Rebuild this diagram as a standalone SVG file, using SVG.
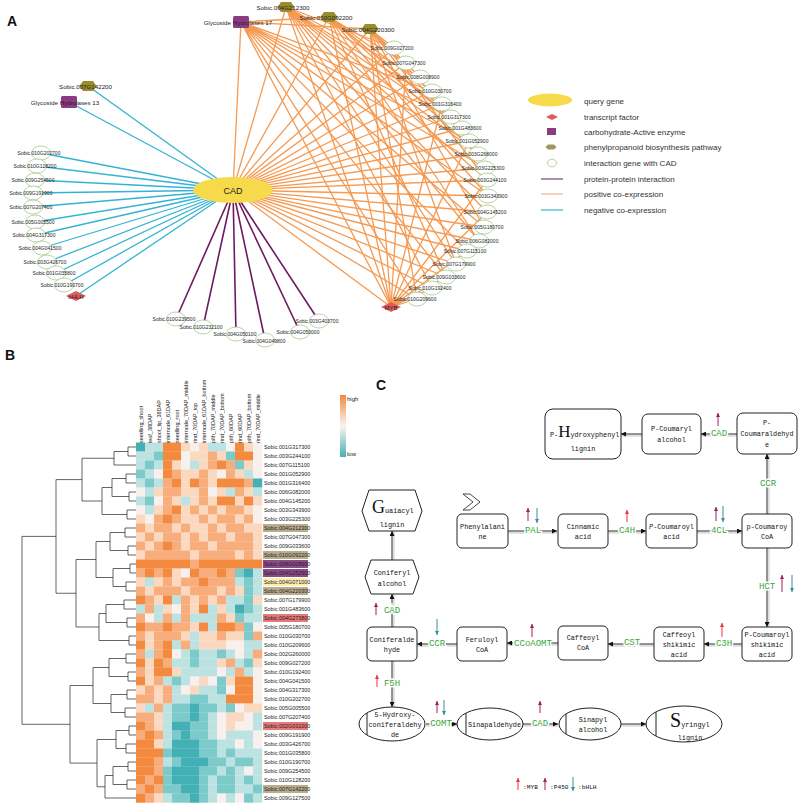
<svg xmlns="http://www.w3.org/2000/svg" width="800" height="805" viewBox="0 0 800 805">
<defs>
<style>
text{font-family:"Liberation Sans",Arial,sans-serif;fill:#222}
.pl{font-size:14px;font-weight:bold;fill:#111}
.nl{font-size:5px;text-anchor:middle;dominant-baseline:central;fill:#222}
.hl{font-size:6.2px;text-anchor:middle;dominant-baseline:central}
.ig{fill:#fff;stroke:#a3c98a;stroke-width:0.8}
.hx{fill:#9b8d2c}
.ce{fill:#8c3a82}
.tf{fill:#e05c5c}
.eo{stroke:#f59a52;stroke-width:1.3;fill:none}
.eb{stroke:#35b3d3;stroke-width:1.3;fill:none}
.ep{stroke:#6e1a62;stroke-width:1.6;fill:none}
.lg{font-size:8px;fill:#333;dominant-baseline:central}
.hm rect{y:0;width:9.2px;height:9.2px}
.hm rect:nth-child(1){x:136px}.hm rect:nth-child(2){x:145px}.hm rect:nth-child(3){x:154px}.hm rect:nth-child(4){x:163px}
.hm rect:nth-child(5){x:172px}.hm rect:nth-child(6){x:181px}.hm rect:nth-child(7){x:190px}.hm rect:nth-child(8){x:199px}
.hm rect:nth-child(9){x:208px}.hm rect:nth-child(10){x:217px}.hm rect:nth-child(11){x:226px}.hm rect:nth-child(12){x:235px}
.hm rect:nth-child(13){x:244px}.hm rect:nth-child(14){x:253px}
.O{fill:#f48a40}.o{fill:#f7ae7c}.p{fill:#fbd8c0}.w{fill:#f7f0ed}.l{fill:#bde2e2}.t{fill:#7dcaca}.T{fill:#42b0b4}
.cl{font-size:5.5px}
.rl{font-size:5.4px;dominant-baseline:central}
.dg{stroke:#222;stroke-width:0.7;fill:none}
.bx{fill:#fff;stroke:#222;stroke-width:1}
.ct{font-family:"Liberation Mono","DejaVu Sans Mono",monospace;font-size:6.8px;text-anchor:middle;fill:#111}
.ez{font-family:"Liberation Mono","DejaVu Sans Mono",monospace;font-size:9px;fill:#3aa63a;text-anchor:middle;dominant-baseline:central;paint-order:stroke;stroke:#fff;stroke-width:3}
.cn{stroke:#444;stroke-width:1;fill:none;marker-end:url(#ah)}
.sh{stroke:#bbb;stroke-width:3.5;fill:none;opacity:.5}
.am{stroke:#e8343c;stroke-width:1;marker-end:url(#am)}
.ap{stroke:#9e1f5a;stroke-width:1;marker-end:url(#ap)}
.ab{stroke:#3a8ea0;stroke-width:1;marker-end:url(#ab)}
</style>
<path id="hex" d="M-8.5 0L-5-5H5L8.5 0L5 5H-5Z"/>
<path id="dia" d="M-10 0L0-5L10 0L0 5Z"/>
<marker id="ah" viewBox="0 0 10 10" refX="10" refY="5" markerWidth="5" markerHeight="5" orient="auto"><path d="M0 0L10 5L0 10z" fill="#111"/></marker>
<marker id="am" viewBox="0 0 10 10" refX="10" refY="5" markerWidth="4" markerHeight="4" orient="auto"><path d="M0 0L10 5L0 10z" fill="#e8343c"/></marker>
<marker id="ap" viewBox="0 0 10 10" refX="10" refY="5" markerWidth="4" markerHeight="4" orient="auto"><path d="M0 0L10 5L0 10z" fill="#9e1f5a"/></marker>
<marker id="ab" viewBox="0 0 10 10" refX="10" refY="5" markerWidth="4" markerHeight="4" orient="auto"><path d="M0 0L10 5L0 10z" fill="#3a8ea0"/></marker>
<linearGradient id="hg" x1="0" y1="0" x2="0" y2="1"><stop offset="0" stop-color="#f4883e"/><stop offset=".5" stop-color="#fbf4f0"/><stop offset="1" stop-color="#45b1b5"/></linearGradient>
</defs>
<rect width="800" height="805" fill="#fff"/>

<text class="pl" x="7" y="26">A</text>
<text class="pl" x="5" y="360">B</text>
<text class="pl" x="376" y="390">C</text>

<!-- Panel A connectors -->
<g id="a-edges">
<path class="eo" d="M233 190L394 48M233 190L406 63M233 190L420 77M233 190L432 91M233 190L442 104M233 190L451 117M233 190L462 128M233 190L469 141M233 190L478 154M233 190L485 168M233 190L487 180M233 190L488 196M233 190L487 212M233 190L484 227M233 190L479 241M233 190L467 251M233 190L456 264M233 190L446 277M233 190L432 288M233 190L417 299M233 190L391 307M233 190L286 7M233 190L329 17M233 190L370 29M233 190L241 22"/>
<path class="eo" d="M241 22L432 91M241 22L451 117M241 22L469 141M241 22L485 168M241 22L488 196M241 22L484 227M241 22L467 251M241 22L446 277M241 22L417 299M241 22L391 307M241 22L370 29M241 22L329 17"/>
<path class="eo" d="M286 7L394 48M286 7L420 77M286 7L442 104M286 7L462 128M286 7L478 154M286 7L487 180M286 7L487 212M286 7L479 241M286 7L456 264M286 7L432 288M286 7L391 307"/>
<path class="eo" d="M329 17L406 63M329 17L432 91M329 17L451 117M329 17L478 154M329 17L488 196M329 17L479 241M329 17L446 277M329 17L391 307M329 17L462 128"/>
<path class="eo" d="M370 29L394 48M370 29L406 63M370 29L420 77M370 29L442 104M370 29L469 141M370 29L487 180M370 29L484 227M370 29L456 264M370 29L417 299M370 29L391 307"/>
<path class="eo" d="M391 307L406 63M391 307L442 104M391 307L469 141M391 307L487 180M391 307L487 212M391 307L467 251M391 307L446 277M391 307L432 288M391 307L417 299"/>
<path class="eb" d="M233 190L88 86M233 190L69 102M233 190L41 153M233 190L37 166M233 190L35 180M233 190L33 193M233 190L33 207M233 190L35 222M233 190L36 235M233 190L42 248M233 190L47 262M233 190L56 273M233 190L64 285M233 190L76 296"/>
<path class="ep" d="M233 190L176 319M233 190L203 327M233 190L236 334M233 190L265 340M233 190L300 332M233 190L319 321"/>
</g>

<!-- Panel A nodes -->
<g id="a-nodes">
<g id="a-cad"><ellipse cx="233" cy="190" rx="40" ry="13" fill="#f7d94c"/><text x="233" y="190.5" font-size="9" text-anchor="middle" dominant-baseline="central">CAD</text></g>
<g id="a-gh17"><rect class="ce" x="233" y="16" width="16" height="12" rx="1.5"/><text class="hl" x="238" y="22.5">Glycoside Hydrolases 17</text></g>
<g id="a-004G212300"><use href="#hex" class="hx" x="286" y="7"/><text class="hl" x="283" y="7.5">Sobic.004G212300</text></g>
<g id="a-010G092200"><use href="#hex" class="hx" x="329" y="17"/><text class="hl" x="326" y="17.5">Sobic.010G092200</text></g>
<g id="a-004G220300"><use href="#hex" class="hx" x="370" y="29"/><text class="hl" x="368" y="29.5">Sobic.004G220300</text></g>
<g id="a-007G142200"><use href="#hex" class="hx" x="88" y="86"/><text class="hl" x="85.5" y="86.5">Sobic.007G142200</text></g>
<g id="a-gh13"><rect class="ce" x="61" y="96" width="16" height="12" rx="1.5"/><text class="hl" x="65" y="102.5">Glycoside Hydrolases 13</text></g>
<g id="a-009G027200"><ellipse class="ig" cx="394" cy="48" rx="9.5" ry="7"/><text class="nl" x="392" y="48">Sobic.009G027200</text></g>
<g id="a-007G047300"><ellipse class="ig" cx="406" cy="63" rx="9.5" ry="7"/><text class="nl" x="404" y="63">Sobic.007G047300</text></g>
<g id="a-008G008900"><ellipse class="ig" cx="420" cy="77" rx="9.5" ry="7"/><text class="nl" x="418" y="77">Sobic.008G008900</text></g>
<g id="a-010G030700"><ellipse class="ig" cx="432" cy="91" rx="9.5" ry="7"/><text class="nl" x="430" y="91">Sobic.010G030700</text></g>
<g id="a-001G316400"><ellipse class="ig" cx="442" cy="104" rx="9.5" ry="7"/><text class="nl" x="440" y="104">Sobic.001G316400</text></g>
<g id="a-001G317300"><ellipse class="ig" cx="451" cy="117" rx="9.5" ry="7"/><text class="nl" x="449" y="117">Sobic.001G317300</text></g>
<g id="a-001G483600"><ellipse class="ig" cx="462" cy="128" rx="9.5" ry="7"/><text class="nl" x="460" y="128">Sobic.001G483600</text></g>
<g id="a-001G052900"><ellipse class="ig" cx="469" cy="141" rx="9.5" ry="7"/><text class="nl" x="467" y="141">Sobic.001G052900</text></g>
<g id="a-003G268000"><ellipse class="ig" cx="478" cy="154" rx="9.5" ry="7"/><text class="nl" x="476" y="154">Sobic.003G268000</text></g>
<g id="a-003G225300"><ellipse class="ig" cx="485" cy="168" rx="9.5" ry="7"/><text class="nl" x="483" y="168">Sobic.003G225300</text></g>
<g id="a-003G244100"><ellipse class="ig" cx="487" cy="180" rx="9.5" ry="7"/><text class="nl" x="485" y="180">Sobic.003G244100</text></g>
<g id="a-003G343900"><ellipse class="ig" cx="488" cy="196" rx="9.5" ry="7"/><text class="nl" x="486" y="196">Sobic.003G343900</text></g>
<g id="a-004G145200"><ellipse class="ig" cx="487" cy="212" rx="9.5" ry="7"/><text class="nl" x="485" y="212">Sobic.004G145200</text></g>
<g id="a-005G180700"><ellipse class="ig" cx="484" cy="227" rx="9.5" ry="7"/><text class="nl" x="482" y="227">Sobic.005G180700</text></g>
<g id="a-006G082000"><ellipse class="ig" cx="479" cy="241" rx="9.5" ry="7"/><text class="nl" x="477" y="241">Sobic.006G082000</text></g>
<g id="a-007G115100"><ellipse class="ig" cx="467" cy="251" rx="9.5" ry="7"/><text class="nl" x="465" y="251">Sobic.007G115100</text></g>
<g id="a-007G179900"><ellipse class="ig" cx="456" cy="264" rx="9.5" ry="7"/><text class="nl" x="454" y="264">Sobic.007G179900</text></g>
<g id="a-009G033600"><ellipse class="ig" cx="446" cy="277" rx="9.5" ry="7"/><text class="nl" x="444" y="277">Sobic.009G033600</text></g>
<g id="a-010G192400"><ellipse class="ig" cx="432" cy="288" rx="9.5" ry="7"/><text class="nl" x="430" y="288">Sobic.010G192400</text></g>
<g id="a-010G209600"><ellipse class="ig" cx="417" cy="299" rx="9.5" ry="7"/><text class="nl" x="415" y="299">Sobic.010G209600</text></g>
<g id="a-myb"><use href="#dia" class="tf" x="391" y="307"/><text x="391" y="307.5" font-size="6" text-anchor="middle" dominant-baseline="central">MYB</text></g>
<g id="a-010G202700"><ellipse class="ig" cx="41" cy="153" rx="9.5" ry="7"/><text class="nl" x="39" y="153">Sobic.010G202700</text></g>
<g id="a-010G128200"><ellipse class="ig" cx="37" cy="166" rx="9.5" ry="7"/><text class="nl" x="35" y="166">Sobic.010G128200</text></g>
<g id="a-009G254500"><ellipse class="ig" cx="35" cy="180" rx="9.5" ry="7"/><text class="nl" x="33" y="180">Sobic.009G254500</text></g>
<g id="a-009G191900"><ellipse class="ig" cx="33" cy="193" rx="9.5" ry="7"/><text class="nl" x="31" y="193">Sobic.009G191900</text></g>
<g id="a-007G207400"><ellipse class="ig" cx="33" cy="207" rx="9.5" ry="7"/><text class="nl" x="31" y="207">Sobic.007G207400</text></g>
<g id="a-005G005500"><ellipse class="ig" cx="35" cy="222" rx="9.5" ry="7"/><text class="nl" x="33" y="222">Sobic.005G005500</text></g>
<g id="a-004G317300"><ellipse class="ig" cx="36" cy="235" rx="9.5" ry="7"/><text class="nl" x="34" y="235">Sobic.004G317300</text></g>
<g id="a-004G041500"><ellipse class="ig" cx="42" cy="248" rx="9.5" ry="7"/><text class="nl" x="40" y="248">Sobic.004G041500</text></g>
<g id="a-003G426700"><ellipse class="ig" cx="47" cy="262" rx="9.5" ry="7"/><text class="nl" x="45" y="262">Sobic.003G426700</text></g>
<g id="a-001G035800"><ellipse class="ig" cx="56" cy="273" rx="9.5" ry="7"/><text class="nl" x="54" y="273">Sobic.001G035800</text></g>
<g id="a-010G190700"><ellipse class="ig" cx="64" cy="285" rx="9.5" ry="7"/><text class="nl" x="62" y="285">Sobic.010G190700</text></g>
<g id="a-bhlh"><use href="#dia" class="tf" x="76" y="296"/><text x="76" y="296.5" font-size="6" text-anchor="middle" dominant-baseline="central">bHLH</text></g>
<g id="a-010G239500"><ellipse class="ig" cx="176" cy="319" rx="9.5" ry="7"/><text class="nl" x="174" y="319">Sobic.010G239500</text></g>
<g id="a-010G232100"><ellipse class="ig" cx="203" cy="327" rx="9.5" ry="7"/><text class="nl" x="201" y="327">Sobic.010G232100</text></g>
<g id="a-004G050100"><ellipse class="ig" cx="236" cy="334" rx="9.5" ry="7"/><text class="nl" x="235" y="334">Sobic.004G050100</text></g>
<g id="a-004G049800"><ellipse class="ig" cx="265" cy="340" rx="9.5" ry="7"/><text class="nl" x="264" y="341">Sobic.004G049800</text></g>
<g id="a-004G050000"><ellipse class="ig" cx="300" cy="332" rx="9.5" ry="7"/><text class="nl" x="298" y="332">Sobic.004G050000</text></g>
<g id="a-003G403700"><ellipse class="ig" cx="319" cy="321" rx="9.5" ry="7"/><text class="nl" x="317" y="321">Sobic.003G403700</text></g>
</g>

<!-- Panel A legend -->
<g id="a-legend">
<ellipse cx="550" cy="100" rx="22" ry="6.5" fill="#f7d94c"/><text class="lg" x="584" y="101">query gene</text>
<path d="M546 117L552 114L558 117L552 120Z" class="tf"/><text class="lg" x="584" y="117">transcript factor</text>
<rect x="547" y="128" width="9" height="7" class="ce"/><text class="lg" x="584" y="132">carbohydrate-Active enzyme</text>
<path d="M545.5 147L548 144.5H554L556.5 147L554 149.5H548Z" fill="#a09565"/><text class="lg" x="584" y="147">phenylpropanoid biosynthesis pathway</text>
<ellipse cx="552" cy="163" rx="4.5" ry="3.8" class="ig"/><text class="lg" x="584" y="163">interaction gene with CAD</text>
<path d="M541 179H563" stroke="#7b3f88" stroke-width="1.2"/><text class="lg" x="584" y="179">protein-protein interaction</text>
<path d="M541 194H563" stroke="#f6b08a" stroke-width="1.2"/><text class="lg" x="584" y="194">positive co-expression</text>
<path d="M541 210H563" stroke="#3cb0d4" stroke-width="1.2"/><text class="lg" x="584" y="210">negative co-expression</text>
</g>

<!-- Panel B heatmap -->
<g id="b-heatmap" class="hm">
<g transform="translate(0,442.5)"><rect class="T"/><rect class="l"/><rect class="l"/><rect class="O"/><rect class="O"/><rect class="p"/><rect class="w"/><rect class="p"/><rect class="l"/><rect class="l"/><rect class="w"/><rect class="O"/><rect class="p"/><rect class="w"/></g>
<g transform="translate(0,451.5)"><rect class="l"/><rect class="l"/><rect class="t"/><rect class="O"/><rect class="O"/><rect class="w"/><rect class="p"/><rect class="p"/><rect class="o"/><rect class="p"/><rect class="t"/><rect class="O"/><rect class="O"/><rect class="w"/></g>
<g transform="translate(0,460.5)"><rect class="l"/><rect class="t"/><rect class="l"/><rect class="O"/><rect class="p"/><rect class="w"/><rect class="l"/><rect class="p"/><rect class="o"/><rect class="O"/><rect class="o"/><rect class="t"/><rect class="p"/><rect class="w"/></g>
<g transform="translate(0,469.5)"><rect class="t"/><rect class="l"/><rect class="w"/><rect class="O"/><rect class="o"/><rect class="p"/><rect class="p"/><rect class="o"/><rect class="p"/><rect class="w"/><rect class="o"/><rect class="p"/><rect class="l"/><rect class="w"/></g>
<g transform="translate(0,478.5)"><rect class="l"/><rect class="t"/><rect class="l"/><rect class="o"/><rect class="O"/><rect class="p"/><rect class="O"/><rect class="o"/><rect class="p"/><rect class="O"/><rect class="O"/><rect class="O"/><rect class="o"/><rect class="T"/></g>
<g transform="translate(0,487.5)"><rect class="w"/><rect class="l"/><rect class="p"/><rect class="o"/><rect class="o"/><rect class="p"/><rect class="p"/><rect class="o"/><rect class="w"/><rect class="p"/><rect class="l"/><rect class="o"/><rect class="p"/><rect class="l"/></g>
<g transform="translate(0,496.5)"><rect class="l"/><rect class="t"/><rect class="w"/><rect class="o"/><rect class="p"/><rect class="l"/><rect class="p"/><rect class="o"/><rect class="p"/><rect class="O"/><rect class="O"/><rect class="p"/><rect class="O"/><rect class="p"/></g>
<g transform="translate(0,505.5)"><rect class="w"/><rect class="l"/><rect class="p"/><rect class="o"/><rect class="O"/><rect class="p"/><rect class="o"/><rect class="p"/><rect class="o"/><rect class="p"/><rect class="o"/><rect class="o"/><rect class="p"/><rect class="w"/></g>
<g transform="translate(0,514.5)"><rect class="p"/><rect class="w"/><rect class="o"/><rect class="O"/><rect class="o"/><rect class="p"/><rect class="p"/><rect class="o"/><rect class="p"/><rect class="o"/><rect class="o"/><rect class="p"/><rect class="o"/><rect class="w"/></g>
<g transform="translate(0,523.5)"><rect class="o"/><rect class="p"/><rect class="o"/><rect class="o"/><rect class="p"/><rect class="o"/><rect class="p"/><rect class="p"/><rect class="o"/><rect class="p"/><rect class="o"/><rect class="o"/><rect class="p"/><rect class="p"/></g>
<g transform="translate(0,532.5)"><rect class="p"/><rect class="o"/><rect class="p"/><rect class="o"/><rect class="o"/><rect class="p"/><rect class="o"/><rect class="p"/><rect class="o"/><rect class="o"/><rect class="p"/><rect class="o"/><rect class="o"/><rect class="p"/></g>
<g transform="translate(0,541.5)"><rect class="o"/><rect class="p"/><rect class="o"/><rect class="O"/><rect class="o"/><rect class="p"/><rect class="o"/><rect class="o"/><rect class="p"/><rect class="o"/><rect class="o"/><rect class="o"/><rect class="o"/><rect class="p"/></g>
<g transform="translate(0,550.5)"><rect class="p"/><rect class="o"/><rect class="o"/><rect class="o"/><rect class="o"/><rect class="o"/><rect class="p"/><rect class="o"/><rect class="o"/><rect class="o"/><rect class="o"/><rect class="p"/><rect class="o"/><rect class="p"/></g>
<g transform="translate(0,559.5)"><rect class="O"/><rect class="O"/><rect class="O"/><rect class="O"/><rect class="O"/><rect class="O"/><rect class="o"/><rect class="O"/><rect class="O"/><rect class="O"/><rect class="O"/><rect class="O"/><rect class="O"/><rect class="O"/></g>
<g transform="translate(0,568.5)"><rect class="o"/><rect class="O"/><rect class="o"/><rect class="O"/><rect class="p"/><rect class="w"/><rect class="O"/><rect class="o"/><rect class="o"/><rect class="O"/><rect class="o"/><rect class="t"/><rect class="T"/><rect class="l"/></g>
<g transform="translate(0,577.5)"><rect class="p"/><rect class="l"/><rect class="p"/><rect class="o"/><rect class="p"/><rect class="o"/><rect class="o"/><rect class="O"/><rect class="o"/><rect class="o"/><rect class="o"/><rect class="l"/><rect class="t"/><rect class="l"/></g>
<g transform="translate(0,586.5)"><rect class="o"/><rect class="p"/><rect class="o"/><rect class="o"/><rect class="o"/><rect class="p"/><rect class="o"/><rect class="o"/><rect class="o"/><rect class="p"/><rect class="o"/><rect class="p"/><rect class="t"/><rect class="l"/></g>
<g transform="translate(0,595.5)"><rect class="O"/><rect class="o"/><rect class="p"/><rect class="O"/><rect class="l"/><rect class="o"/><rect class="p"/><rect class="o"/><rect class="p"/><rect class="o"/><rect class="l"/><rect class="l"/><rect class="t"/><rect class="p"/></g>
<g transform="translate(0,604.5)"><rect class="l"/><rect class="o"/><rect class="l"/><rect class="p"/><rect class="w"/><rect class="o"/><rect class="p"/><rect class="O"/><rect class="l"/><rect class="p"/><rect class="l"/><rect class="T"/><rect class="t"/><rect class="l"/></g>
<g transform="translate(0,613.5)"><rect class="o"/><rect class="w"/><rect class="l"/><rect class="o"/><rect class="l"/><rect class="o"/><rect class="l"/><rect class="l"/><rect class="l"/><rect class="o"/><rect class="p"/><rect class="t"/><rect class="l"/><rect class="l"/></g>
<g transform="translate(0,622.5)"><rect class="O"/><rect class="o"/><rect class="o"/><rect class="O"/><rect class="o"/><rect class="o"/><rect class="p"/><rect class="O"/><rect class="l"/><rect class="O"/><rect class="O"/><rect class="o"/><rect class="t"/><rect class="w"/></g>
<g transform="translate(0,631.5)"><rect class="o"/><rect class="p"/><rect class="o"/><rect class="o"/><rect class="o"/><rect class="p"/><rect class="l"/><rect class="p"/><rect class="p"/><rect class="o"/><rect class="p"/><rect class="p"/><rect class="t"/><rect class="o"/></g>
<g transform="translate(0,640.5)"><rect class="O"/><rect class="p"/><rect class="o"/><rect class="O"/><rect class="l"/><rect class="o"/><rect class="l"/><rect class="p"/><rect class="p"/><rect class="p"/><rect class="w"/><rect class="w"/><rect class="l"/><rect class="l"/></g>
<g transform="translate(0,649.5)"><rect class="o"/><rect class="l"/><rect class="o"/><rect class="O"/><rect class="w"/><rect class="l"/><rect class="t"/><rect class="l"/><rect class="l"/><rect class="t"/><rect class="l"/><rect class="w"/><rect class="l"/><rect class="o"/></g>
<g transform="translate(0,658.5)"><rect class="O"/><rect class="p"/><rect class="O"/><rect class="o"/><rect class="l"/><rect class="l"/><rect class="t"/><rect class="l"/><rect class="l"/><rect class="p"/><rect class="o"/><rect class="l"/><rect class="t"/><rect class="p"/></g>
<g transform="translate(0,667.5)"><rect class="o"/><rect class="p"/><rect class="O"/><rect class="O"/><rect class="p"/><rect class="l"/><rect class="l"/><rect class="l"/><rect class="l"/><rect class="w"/><rect class="l"/><rect class="o"/><rect class="l"/><rect class="w"/></g>
<g transform="translate(0,676.5)"><rect class="O"/><rect class="p"/><rect class="o"/><rect class="l"/><rect class="t"/><rect class="l"/><rect class="w"/><rect class="p"/><rect class="w"/><rect class="t"/><rect class="p"/><rect class="O"/><rect class="O"/><rect class="w"/></g>
<g transform="translate(0,685.5)"><rect class="p"/><rect class="o"/><rect class="p"/><rect class="o"/><rect class="l"/><rect class="w"/><rect class="p"/><rect class="l"/><rect class="l"/><rect class="t"/><rect class="w"/><rect class="O"/><rect class="O"/><rect class="w"/></g>
<g transform="translate(0,694.5)"><rect class="o"/><rect class="o"/><rect class="p"/><rect class="o"/><rect class="l"/><rect class="l"/><rect class="t"/><rect class="t"/><rect class="l"/><rect class="l"/><rect class="O"/><rect class="O"/><rect class="O"/><rect class="w"/></g>
<g transform="translate(0,703.5)"><rect class="p"/><rect class="l"/><rect class="o"/><rect class="l"/><rect class="t"/><rect class="t"/><rect class="T"/><rect class="t"/><rect class="t"/><rect class="l"/><rect class="t"/><rect class="w"/><rect class="p"/><rect class="p"/></g>
<g transform="translate(0,712.5)"><rect class="o"/><rect class="o"/><rect class="p"/><rect class="l"/><rect class="t"/><rect class="t"/><rect class="T"/><rect class="t"/><rect class="l"/><rect class="w"/><rect class="p"/><rect class="p"/><rect class="w"/><rect class="l"/></g>
<g transform="translate(0,721.5)"><rect class="O"/><rect class="o"/><rect class="p"/><rect class="l"/><rect class="T"/><rect class="T"/><rect class="t"/><rect class="t"/><rect class="l"/><rect class="w"/><rect class="p"/><rect class="w"/><rect class="w"/><rect class="l"/></g>
<g transform="translate(0,730.5)"><rect class="o"/><rect class="O"/><rect class="o"/><rect class="l"/><rect class="t"/><rect class="T"/><rect class="t"/><rect class="t"/><rect class="l"/><rect class="w"/><rect class="l"/><rect class="l"/><rect class="l"/><rect class="w"/></g>
<g transform="translate(0,739.5)"><rect class="O"/><rect class="O"/><rect class="p"/><rect class="l"/><rect class="T"/><rect class="T"/><rect class="T"/><rect class="t"/><rect class="t"/><rect class="l"/><rect class="l"/><rect class="w"/><rect class="l"/><rect class="w"/></g>
<g transform="translate(0,748.5)"><rect class="O"/><rect class="O"/><rect class="O"/><rect class="t"/><rect class="T"/><rect class="T"/><rect class="T"/><rect class="t"/><rect class="t"/><rect class="l"/><rect class="t"/><rect class="l"/><rect class="l"/><rect class="l"/></g>
<g transform="translate(0,757.5)"><rect class="O"/><rect class="O"/><rect class="o"/><rect class="l"/><rect class="t"/><rect class="T"/><rect class="T"/><rect class="T"/><rect class="t"/><rect class="t"/><rect class="l"/><rect class="t"/><rect class="t"/><rect class="l"/></g>
<g transform="translate(0,766.5)"><rect class="O"/><rect class="O"/><rect class="o"/><rect class="t"/><rect class="T"/><rect class="T"/><rect class="T"/><rect class="t"/><rect class="t"/><rect class="l"/><rect class="t"/><rect class="l"/><rect class="w"/><rect class="l"/></g>
<g transform="translate(0,775.5)"><rect class="O"/><rect class="o"/><rect class="O"/><rect class="t"/><rect class="T"/><rect class="T"/><rect class="T"/><rect class="t"/><rect class="l"/><rect class="t"/><rect class="t"/><rect class="l"/><rect class="t"/><rect class="l"/></g>
<g transform="translate(0,784.5)"><rect class="o"/><rect class="O"/><rect class="o"/><rect class="t"/><rect class="t"/><rect class="T"/><rect class="T"/><rect class="t"/><rect class="l"/><rect class="t"/><rect class="t"/><rect class="l"/><rect class="l"/><rect class="t"/></g>
<g transform="translate(0,793.5)"><rect class="O"/><rect class="o"/><rect class="p"/><rect class="l"/><rect class="t"/><rect class="t"/><rect class="T"/><rect class="t"/><rect class="l"/><rect class="w"/><rect class="l"/><rect class="w"/><rect class="t"/><rect class="l"/></g>
</g>

<g id="b-collabels" class="cl">
<text transform="translate(142.5,443) rotate(-90)">seedling_shoot</text>
<text transform="translate(151.5,443) rotate(-90)">leaf_38DAP</text>
<text transform="translate(160.5,443) rotate(-90)">shoot_tip_38DAP</text>
<text transform="translate(169.5,443) rotate(-90)">internode_61DAP</text>
<text transform="translate(178.5,443) rotate(-90)">seedling_root</text>
<text transform="translate(187.5,443) rotate(-90)">internode_70DAP_middle</text>
<text transform="translate(196.5,443) rotate(-90)">rind_70DAP_top</text>
<text transform="translate(205.5,443) rotate(-90)">internode_61DAP_bottom</text>
<text transform="translate(214.5,443) rotate(-90)">pith_70DAP_middle</text>
<text transform="translate(223.5,443) rotate(-90)">rind_70DAP_bottom</text>
<text transform="translate(232.5,443) rotate(-90)">pith_60DAP</text>
<text transform="translate(241.5,443) rotate(-90)">rind_60DAP</text>
<text transform="translate(250.5,443) rotate(-90)">pith_70DAP_bottom</text>
<text transform="translate(259.5,443) rotate(-90)">rind_70DAP_middle</text>
</g>

<g id="b-rowlabels" class="rl">
<rect x="263" y="524" width="45" height="8" fill="#b9ad8e"/>
<rect x="263" y="551" width="45" height="8" fill="#b9ad8e"/>
<rect x="263" y="560" width="45" height="8" fill="#8b4b8b"/>
<rect x="263" y="569" width="45" height="8" fill="#8b4b8b"/>
<rect x="263" y="578" width="45" height="8" fill="#fbeeb0"/>
<rect x="263" y="587" width="45" height="8" fill="#b9ad8e"/>
<rect x="263" y="614" width="45" height="8" fill="#e57a7a"/>
<rect x="263" y="722" width="45" height="8" fill="#e57a7a"/>
<rect x="263" y="785" width="45" height="8" fill="#b9ad8e"/>
<text x="264" y="447">Sobic.001G317300</text>
<text x="264" y="456">Sobic.003G244100</text>
<text x="264" y="465">Sobic.007G115100</text>
<text x="264" y="474">Sobic.001G052900</text>
<text x="264" y="483">Sobic.001G316400</text>
<text x="264" y="492">Sobic.006G082000</text>
<text x="264" y="501">Sobic.004G145200</text>
<text x="264" y="510">Sobic.003G343900</text>
<text x="264" y="519">Sobic.003G225300</text>
<text x="264" y="528" fill="#555">Sobic.004G212300</text>
<text x="264" y="537">Sobic.007G047300</text>
<text x="264" y="546">Sobic.009G033600</text>
<text x="264" y="555" fill="#555">Sobic.010G092200</text>
<text x="264" y="564" fill="#3a1a3a">Sobic.008G008900</text>
<text x="264" y="573" fill="#3a1a3a">Sobic.004G252900</text>
<text x="264" y="582" fill="#e8c850">Sobic.004G071000</text>
<text x="264" y="591" fill="#555">Sobic.004G220300</text>
<text x="264" y="600">Sobic.007G179900</text>
<text x="264" y="609">Sobic.001G483600</text>
<text x="264" y="618">Sobic.004G273800</text>
<text x="264" y="627">Sobic.005G180700</text>
<text x="264" y="636">Sobic.010G030700</text>
<text x="264" y="645">Sobic.010G209600</text>
<text x="264" y="654">Sobic.002G260000</text>
<text x="264" y="663">Sobic.009G027200</text>
<text x="264" y="672">Sobic.010G192400</text>
<text x="264" y="681">Sobic.004G041500</text>
<text x="264" y="690">Sobic.004G317300</text>
<text x="264" y="699">Sobic.010G202700</text>
<text x="264" y="708">Sobic.005G005500</text>
<text x="264" y="717">Sobic.007G207400</text>
<text x="264" y="726">Sobic.002G031000</text>
<text x="264" y="735">Sobic.009G191900</text>
<text x="264" y="744">Sobic.003G426700</text>
<text x="264" y="753">Sobic.001G035800</text>
<text x="264" y="762">Sobic.010G190700</text>
<text x="264" y="771">Sobic.009G254500</text>
<text x="264" y="780">Sobic.010G128200</text>
<text x="264" y="789" fill="#555">Sobic.007G142200</text>
<text x="264" y="798">Sobic.009G127500</text>
</g>

<g id="b-dendrogram">
<path class="dg" d="M136 447H128V456H136M136 474H126V483H136M136 492H129V501H136M136 510H127V519H136M136 528H125V537H136M136 546H128V555H136M136 564H130V573H136M136 582H126V591H136M136 600H124V609H136M136 618H127V627H136M136 636H129V645H136M136 654H126V663H136M136 672H128V681H136M136 690H127V699H136M136 708H125V717H136M136 726H129V735H136M136 744H126V753H136M136 762H128V771H136M136 780H127V789H136"/>
<path class="dg" d="M128 451.5H114V465H136M126 478.5H112V496.5H129M112 487.5H102V514.5H127M114 458.25H82V501H102M125 532.5H110V550.5H128M130 568.5H113V586.5H126M110 541.5H96V577.5H113M124 604.5H106V622.5H127M106 613.5H99V640.5H129M96 559.5H76V627H99M82 479.6H56V593.25H76M126 658.5H109V676.5H128M127 694.5H111V712.5H125M109 667.5H93V703.5H111M129 730.5H116V748.5H126M128 766.5H113V784.5H127M113 775.5H105V798H136M116 739.5H97V786.75H105M93 685.5H70V763.1H97M56 536.4H22V724.3H70"/>
</g>

<g id="b-scale">
<rect x="340" y="395" width="6" height="62" fill="url(#hg)"/>
<text x="347" y="401" font-size="6">high</text>
<text x="347" y="456" font-size="6">low</text>
</g>

<!-- Panel C connectors -->
<g id="c-edges">
<path class="sh" d="M508 532H557M608 532H646M697 532H742M768 514V454M737 435H701M642 435H621M768 548V627M742 645H704M654 645H608M558 644H507M457 645H417M393 627V594M393 560V531M393 661V707M426 725H457M523 725H558M621 725H646"/>
<path class="cn" d="M508 531H557"/>
<path class="cn" d="M608 531H646"/>
<path class="cn" d="M697 531H742"/>
<path class="cn" d="M767 514V454"/>
<path class="cn" d="M737 434H701"/>
<path class="cn" d="M642 434H621"/>
<path class="cn" d="M767 548V627"/>
<path class="cn" d="M742 644H704"/>
<path class="cn" d="M654 644H608"/>
<path class="cn" d="M558 643H507"/>
<path class="cn" d="M457 644H417"/>
<path class="cn" d="M392 627V594"/>
<path class="cn" d="M392 560V531"/>
<path class="cn" d="M392 661V707"/>
<path class="cn" d="M426 724H457"/>
<path class="cn" d="M523 724H558"/>
<path class="cn" d="M621 724H646"/>
</g>

<!-- Panel C nodes -->
<g id="c-nodes">
<g id="c-hlignin"><rect class="bx" x="545" y="409" width="76" height="50" rx="8"/><text class="ct" x="550" y="437" style="text-anchor:start">P-<tspan font-size="17" font-family="Liberation Serif,serif">H</tspan>ydroxyphenyl</text><text class="ct" x="583" y="451">lignin</text></g>
<g id="c-pcoumarylalc"><rect class="bx" x="642" y="414" width="59" height="40" rx="6"/><text class="ct" x="671.5" y="431">P-Coumaryl</text><text class="ct" x="671.5" y="441.5">alcohol</text></g>
<g id="c-pcoumarald"><rect class="bx" x="737" y="413" width="60" height="41" rx="6"/><text class="ct" x="767" y="425">P-</text><text class="ct" x="767" y="436">Coumaraldehyd</text><text class="ct" x="767" y="446.5">e</text></g>
<g id="c-glignin"><path class="bx" d="M362 511L369 490H415L422 511L415 531H369Z"/><text class="ct" x="372" y="513" style="text-anchor:start"><tspan font-size="18" font-family="Liberation Serif,serif">G</tspan>uaiacyl</text><text class="ct" x="392" y="527">lignin</text></g>
<g id="c-coniferylalc"><path class="bx" d="M365 577L371 560H413L419 577L413 594H371Z"/><text class="ct" x="392" y="575">Coniferyl</text><text class="ct" x="392" y="586">alcohol</text></g>
<g id="c-chevron"><path d="M463 494H470L480 502L470 510H463L473 502Z" fill="#fff" stroke="#333" stroke-width="0.9"/></g>
<g id="c-phe"><rect class="bx" x="457" y="514" width="51" height="34" rx="5"/><text class="ct" x="482.5" y="528.5">Phenylalani</text><text class="ct" x="482.5" y="538.5">ne</text></g>
<g id="c-cinnamic"><rect class="bx" x="558" y="514" width="50" height="34" rx="5"/><text class="ct" x="583" y="528.5">Cinnamic</text><text class="ct" x="583" y="538.5">acid</text></g>
<g id="c-pcoumaroylacid"><rect class="bx" x="646" y="514" width="51" height="34" rx="5"/><text class="ct" x="671.5" y="528.5"><tspan font-style="italic">P</tspan>-Coumaroyl</text><text class="ct" x="671.5" y="538.5">acid</text></g>
<g id="c-pcoumaroycoa"><rect class="bx" x="742" y="514" width="50" height="34" rx="5"/><text class="ct" x="767" y="528.5">p-Coumaroy</text><text class="ct" x="767" y="538.5">CoA</text></g>
<g id="c-pcoumshik"><rect class="bx" x="742" y="627" width="50" height="34" rx="5"/><text class="ct" x="767" y="636.5">P-Coumaroyl</text><text class="ct" x="767" y="646.5">shikimic</text><text class="ct" x="767" y="656.5">acid</text></g>
<g id="c-caffshik"><rect class="bx" x="654" y="627" width="50" height="34" rx="5"/><text class="ct" x="679" y="636.5">Caffeoyl</text><text class="ct" x="679" y="646.5">shikimic</text><text class="ct" x="679" y="656.5">acid</text></g>
<g id="c-caffcoa"><rect class="bx" x="558" y="626" width="50" height="34" rx="5"/><text class="ct" x="583" y="640">Caffeoyl</text><text class="ct" x="583" y="650">CoA</text></g>
<g id="c-ferucoa"><rect class="bx" x="457" y="627" width="50" height="34" rx="5"/><text class="ct" x="482" y="642">Feruloyl</text><text class="ct" x="482" y="652">CoA</text></g>
<g id="c-conald"><rect class="bx" x="367" y="627" width="50" height="34" rx="5"/><text class="ct" x="392" y="642">Coniferalde</text><text class="ct" x="392" y="652">hyde</text></g>
<g id="c-5hydroxy"><ellipse class="bx" cx="392" cy="724" rx="33" ry="17"/><path d="M367 713V735" stroke="#222"/><text class="ct" x="395" y="717">5-Hydroxy-</text><text class="ct" x="395" y="727">coniferaldehy</text><text class="ct" x="395" y="737">de</text></g>
<g id="c-sinapald"><ellipse class="bx" cx="490" cy="724" rx="33" ry="16"/><path d="M466 713V735" stroke="#222"/><text class="ct" x="494.5" y="726.5">Sinapaldehyde</text></g>
<g id="c-sinapylalc"><ellipse class="bx" cx="590" cy="724" rx="31" ry="16"/><path d="M566 714V734" stroke="#222"/><text class="ct" x="593" y="722">Sinapyl</text><text class="ct" x="593" y="732">alcohol</text></g>
<g id="c-slignin"><ellipse class="bx" cx="684" cy="724" rx="38" ry="18"/><path d="M656 712V736" stroke="#222"/><text class="ct" x="670" y="727" style="text-anchor:start"><tspan font-size="20" font-family="Liberation Serif,serif">S</tspan>yringyl</text><text class="ct" x="690" y="740">lignin</text></g>
</g>

<!-- Panel C enzyme labels and regulators -->
<g id="c-enzymes">
<text class="ez" x="533" y="531">PAL</text>
<text class="ez" x="627" y="531">C4H</text>
<text class="ez" x="719" y="531">4CL</text>
<text class="ez" x="768" y="484">CCR</text>
<text class="ez" x="719" y="434">CAD</text>
<text class="ez" x="767" y="587">HCT</text>
<text class="ez" x="724" y="644">C3H</text>
<text class="ez" x="632" y="643">CST</text>
<text class="ez" x="533" y="644">CCoAOMT</text>
<text class="ez" x="437" y="644">CCR</text>
<text class="ez" x="392" y="611">CAD</text>
<text class="ez" x="392" y="684">F5H</text>
<text class="ez" x="441" y="724">COMT</text>
<text class="ez" x="540" y="724">CAD</text>
</g>
<g id="c-regulators">
<path class="ap" d="M718 426V413"/>
<path class="ap" d="M528 521V508"/><path class="ab" d="M537 508V523"/>
<path class="am" d="M627 522V510"/>
<path class="ap" d="M716 521V507"/><path class="ab" d="M723 506V522"/>
<path class="ap" d="M782 592V575"/><path class="ab" d="M792 575V592"/>
<path class="am" d="M722 637V623"/>
<path class="ap" d="M532 637V624"/>
<path class="ab" d="M437 619V635"/>
<path class="ap" d="M376 615V603"/>
<path class="am" d="M377 687V675"/>
<path class="ap" d="M437 713V701"/><path class="ab" d="M444 700V715"/>
<path class="ap" d="M540 713V701"/>
</g>
<g id="c-legend">
<path class="am" d="M518 790V778"/><text class="ct" x="523" y="789" style="text-anchor:start;font-size:6.2px">:MYB</text>
<path class="ap" d="M545 790V778"/><text class="ct" x="550" y="789" style="text-anchor:start;font-size:6.2px">:P450</text>
<path class="ab" d="M573 777V791"/><text class="ct" x="578" y="789" style="text-anchor:start;font-size:6.2px">:bHLH</text>
</g>
</svg>
